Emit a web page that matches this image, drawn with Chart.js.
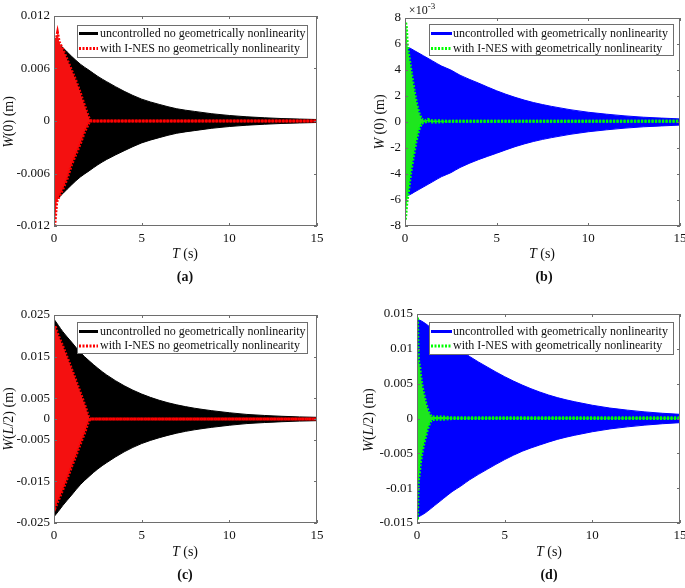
<!DOCTYPE html>
<html>
<head>
<meta charset="utf-8">
<script src="https://cdn.jsdelivr.net/npm/chart.js@4.4.1/dist/chart.umd.min.js"></script>
<style>
html, body { margin: 0; padding: 0; background: #fff; }
#wrap { position: relative; width: 685px; height: 588px; overflow: hidden; }
canvas { position: absolute; }
</style>
</head>
<body>
<div id="wrap">
  <canvas id="cA"></canvas>
  <canvas id="cB"></canvas>
  <canvas id="cC"></canvas>
  <canvas id="cD"></canvas>
</div>
<script>
// times (s) where the envelopes of the uncontrolled responses were read
const tEnv = [0, 0.25, 0.5, 1, 1.5, 2, 2.5, 3, 4, 5, 6, 7, 8, 9, 10, 11, 12, 13, 14, 15];
const xTicks = [0, 5, 10, 15];

// (a) W(0), no geometric nonlinearity
const upperA = [0.0096, 0.0089, 0.0084, 0.0074, 0.0065, 0.0058, 0.0051, 0.0045, 0.0034, 0.0025, 0.0019, 0.0014, 0.0011, 0.00083, 0.00063, 0.00048, 0.00037, 0.00028, 0.00022, 0.00017];
const lowerA = [-0.0093, -0.0088, -0.0083, -0.0073, -0.0064, -0.0057, -0.0050, -0.0044, -0.0034, -0.0025, -0.0019, -0.0014, -0.0011, -0.00083, -0.00063, -0.00048, -0.00037, -0.00028, -0.00022, -0.00017];
const tNesA = [0, 0.05, 0.15, 0.2, 0.3, 0.5, 0.75, 1, 1.25, 1.5, 1.75, 2, 2.1, 15];
const nesUpperA = [0.0093, 0.0095, 0.0096, 0.0101, 0.0090, 0.0082, 0.0070, 0.0058, 0.0046, 0.0032, 0.0017, 0.0003, 0, 0];
const nesLowerA = [-0.0120, -0.0118, -0.0093, -0.0090, -0.0086, -0.0078, -0.0066, -0.0050, -0.0038, -0.0026, -0.0012, -0.0002, 0, 0];
const yTicksA = [-0.012, -0.006, 0, 0.006, 0.012];
const yLabelsA = ['-0.012', '-0.006', '0', '0.006', '0.012'];

// (b) W(0), with geometric nonlinearity
const upperB = [0.0058, 0.0057, 0.0055, 0.0051, 0.0047, 0.0043, 0.0040, 0.0036, 0.0030, 0.0024, 0.0019, 0.0015, 0.0012, 0.00095, 0.00075, 0.0006, 0.00047, 0.00037, 0.0003, 0.00024];
const lowerB = [-0.0057, -0.0056, -0.0054, -0.0050, -0.0046, -0.0042, -0.0039, -0.0035, -0.0029, -0.0024, -0.0019, -0.0015, -0.0012, -0.00095, -0.00075, -0.0006, -0.00047, -0.00037, -0.0003, -0.00024];
const tNesB = [0, 0.03, 0.08, 0.12, 0.2, 0.3, 0.45, 0.6, 0.75, 0.9, 1.1, 1.25, 1.4, 1.7, 2.5, 15];
const nesUpperB = [0.0075, 0.0077, 0.0072, 0.0060, 0.0052, 0.0042, 0.0028, 0.0016, 0.0007, 0.0002, 0.0001, 0.0002, 0.0001, 0.0001, 0.00005, 0.00005];
const nesLowerB = [-0.0075, -0.0074, -0.0065, -0.0060, -0.0052, -0.0040, -0.0027, -0.0015, -0.0006, -0.0001, 0, 0.0001, 0, 0, 0.00005, 0.00005];
const yTicksB = [-0.008, -0.006, -0.004, -0.002, 0, 0.002, 0.004, 0.006, 0.008];
const yLabelsB = ['-8', '-6', '-4', '-2', '0', '2', '4', '6', '8'];

// (c) W(L/2), no geometric nonlinearity
const upperC = [0.0240, 0.0225, 0.0210, 0.0185, 0.0160, 0.0140, 0.0122, 0.0106, 0.0080, 0.0060, 0.0045, 0.0034, 0.0026, 0.0020, 0.0015, 0.0011, 0.00085, 0.00065, 0.0005, 0.0004];
const lowerC = [-0.0235, -0.0222, -0.0208, -0.0183, -0.0158, -0.0138, -0.0120, -0.0105, -0.0079, -0.0059, -0.0045, -0.0034, -0.0026, -0.0020, -0.0015, -0.0011, -0.00085, -0.00065, -0.0005, -0.0004];
const tNesC = [0, 0.05, 0.25, 0.5, 0.75, 1, 1.25, 1.5, 1.75, 1.95, 2.05, 15];
const nesUpperC = [0.0220, 0.0225, 0.0200, 0.0175, 0.0148, 0.0120, 0.0092, 0.0063, 0.0034, 0.0008, 0, 0];
const nesLowerC = [-0.0205, -0.0215, -0.0195, -0.0170, -0.0143, -0.0115, -0.0088, -0.0060, -0.0033, -0.0008, 0, 0];
const yTicksC = [-0.025, -0.015, -0.005, 0, 0.005, 0.015, 0.025];
const yLabelsC = ['-0.025', '-0.015', '-0.005', '0', '0.005', '0.015', '0.025'];

// (d) W(L/2), with geometric nonlinearity
const upperD = [0.0143, 0.0140, 0.0136, 0.0126, 0.0116, 0.0106, 0.0098, 0.0089, 0.0074, 0.0060, 0.0048, 0.0038, 0.0030, 0.0024, 0.0019, 0.0015, 0.0012, 0.00095, 0.00075, 0.0006];
const lowerD = [-0.0142, -0.0139, -0.0135, -0.0125, -0.0115, -0.0105, -0.0097, -0.0088, -0.0073, -0.0059, -0.0047, -0.0038, -0.0030, -0.0024, -0.0019, -0.0015, -0.0012, -0.00095, -0.00075, -0.0006];
const tNesD = [0, 0.03, 0.06, 0.1, 0.15, 0.2, 0.3, 0.4, 0.5, 0.6, 0.7, 0.8, 1.0, 1.5, 2.0, 15];
const nesUpperD = [0.0143, 0.0143, 0.0095, 0.0080, 0.0075, 0.0062, 0.0045, 0.0033, 0.0022, 0.0013, 0.0007, 0.0003, 0.0002, 0.0002, 0.0001, 0.0001];
const nesLowerD = [-0.0143, -0.0143, -0.0095, -0.0085, -0.0075, -0.0062, -0.0047, -0.0035, -0.0025, -0.0015, -0.0008, -0.0003, -0.0001, -0.0001, 0, 0];
const yTicksD = [-0.015, -0.01, -0.005, 0, 0.005, 0.01, 0.015];
const yLabelsD = ['-0.015', '-0.01', '-0.005', '0', '0.005', '0.01', '0.015'];

const legendNo = ['uncontrolled no geometrically nonlinearity', 'with I-NES no geometrically nonlinearity'];
const legendWith = ['uncontrolled with geometrically nonlinearity', 'with I-NES with geometrically nonlinearity'];

const SERIF = '"Liberation Serif", "Times New Roman", serif';
const FRAME = '#6e6e6e';

// draws a run of text pieces with different fonts, centred on (x, y)
function richText(ctx, parts, x, y, rot) {
    ctx.save();
    ctx.translate(x, y);
    if (rot) ctx.rotate(rot);
    let total = 0;
    parts.forEach(p => { ctx.font = p.f; total += ctx.measureText(p.t).width; });
    let cx = -total / 2;
    ctx.textBaseline = 'middle';
    ctx.textAlign = 'left';
    ctx.fillStyle = '#111';
    parts.forEach(p => {
        ctx.font = p.f;
        ctx.fillText(p.t, cx, p.dy || 0);
        cx += ctx.measureText(p.t).width;
    });
    ctx.restore();
}

function makePanel(id, p) {
    const canvas = document.getElementById(id);
    canvas.width = p.w;
    canvas.height = p.h;
    canvas.style.left = p.left + 'px';
    canvas.style.top = p.top + 'px';
    canvas.style.width = p.w + 'px';
    canvas.style.height = p.h + 'px';

    const pts = (xs, ys) => xs.map((x, i) => ({ x: x, y: ys[i] }));
    const c0 = p.colors[0], c1 = p.colors[1];

    // frame, inward ticks, legend and axis titles
    const deco = {
        id: 'deco' + id,
        afterDatasetsDraw(chart) {
            const ctx = chart.ctx, a = chart.chartArea;
            const xs = chart.scales.x, ys = chart.scales.y;
            ctx.save();
            ctx.strokeStyle = FRAME;
            ctx.lineWidth = 1;
            ctx.strokeRect(Math.round(a.left) + 0.5, Math.round(a.top) + 0.5,
                Math.round(a.right - a.left) - 1, Math.round(a.bottom - a.top) - 1);
            ctx.beginPath();
            xs.ticks.forEach(t => {
                const px = Math.round(xs.getPixelForValue(t.value)) + 0.5;
                ctx.moveTo(px, a.bottom); ctx.lineTo(px, a.bottom - 3);
                ctx.moveTo(px, a.top); ctx.lineTo(px, a.top + 3);
            });
            ys.ticks.forEach(t => {
                const py = Math.round(ys.getPixelForValue(t.value)) + 0.5;
                ctx.moveTo(a.left, py); ctx.lineTo(a.left + 3, py);
                ctx.moveTo(a.right, py); ctx.lineTo(a.right - 3, py);
            });
            ctx.stroke();

            // legend box
            const L = p.leg;
            ctx.fillStyle = '#fff';
            ctx.fillRect(L.x0, L.y0, L.x1 - L.x0, L.y1 - L.y0);
            ctx.strokeStyle = FRAME;
            ctx.strokeRect(L.x0 + 0.5, L.y0 + 0.5, L.x1 - L.x0, L.y1 - L.y0);
            ctx.lineWidth = 3;
            ctx.strokeStyle = c0;
            ctx.beginPath(); ctx.moveTo(L.s0, L.r0); ctx.lineTo(L.s1, L.r0); ctx.stroke();
            ctx.strokeStyle = c1;
            ctx.setLineDash([2, 1.5]);
            ctx.beginPath(); ctx.moveTo(L.s0, L.r1); ctx.lineTo(L.s1, L.r1); ctx.stroke();
            ctx.setLineDash([]);
            ctx.fillStyle = '#111';
            ctx.font = '12px ' + SERIF;
            ctx.textBaseline = 'middle';
            ctx.fillText(p.legend[0], L.tx, L.r0);
            ctx.fillText(p.legend[1], L.tx, L.r1);
            ctx.restore();
        },
        afterDraw(chart) {
            const ctx = chart.ctx;
            const f = '14px ' + SERIF, fi = 'italic 14px ' + SERIF;
            richText(ctx, p.yTitle.map(s => ({ t: s[0], f: s[1] ? fi : f })), p.yt[0], p.yt[1], -Math.PI / 2);
            richText(ctx, [{ t: 'T', f: fi }, { t: ' (s)', f: f }], p.xt[0], p.xt[1]);
            richText(ctx, [{ t: p.caption, f: 'bold 14px ' + SERIF }], p.cap[0], p.cap[1]);
            if (p.exp) {
                richText(ctx, [{ t: '\u00d710', f: '12px ' + SERIF }, { t: '-3', f: '9px ' + SERIF, dy: -4 }], p.exp[0], p.exp[1]);
            }
        }
    };

    const line = (data, color, extra) => Object.assign({
        data: data, borderColor: color, backgroundColor: color,
        pointRadius: 0, borderWidth: 1, tension: 0
    }, extra);

    return new Chart(canvas.getContext('2d'), {
        type: 'line',
        data: {
            datasets: [
                line(pts(tEnv, p.up), c0, { fill: false, order: 4, cubicInterpolationMode: 'monotone' }),
                line(pts(tEnv, p.low), c0, { fill: '-1', order: 3, cubicInterpolationMode: 'monotone' }),
                line(pts(p.tNes, p.nesUp), c1, { fill: false, order: 2, borderWidth: 3, borderDash: [2, 1.5] }),
                line(pts(p.tNes, p.nesLow), c1, { fill: '-1', order: 1, borderWidth: 3, borderDash: [2, 1.5], backgroundColor: p.nesFill })
            ]
        },
        options: {
            responsive: false,
            animation: false,
            devicePixelRatio: 1,
            layout: { padding: { left: 0, top: p.plotT, right: p.w - p.plotR, bottom: 0 } },
            plugins: { legend: { display: false }, tooltip: { enabled: false } },
            scales: {
                x: {
                    type: 'linear', min: 0, max: 15,
                    grid: { display: false, drawTicks: false },
                    border: { display: false },
                    afterBuildTicks: s => { s.ticks = xTicks.map(v => ({ value: v })); },
                    afterFit: s => { s.height = p.h - p.plotB; s.paddingLeft = 0; s.paddingRight = 0; },
                    ticks: { padding: 5, maxRotation: 0, color: '#111', font: { family: SERIF, size: 13 } }
                },
                y: {
                    type: 'linear', min: p.yTicks[0], max: p.yTicks[p.yTicks.length - 1],
                    grid: { display: false, drawTicks: false },
                    border: { display: false },
                    afterBuildTicks: s => { s.ticks = p.yTicks.map(v => ({ value: v })); },
                    afterFit: s => { s.width = p.plotL; s.paddingTop = 0; s.paddingBottom = 0; },
                    ticks: {
                        padding: 4, color: '#111', font: { family: SERIF, size: 13 },
                        callback: (v, i) => p.yLabels[i]
                    }
                }
            }
        },
        plugins: [deco]
    });
}

makePanel('cA', {
    left: 0, top: 0, w: 340, h: 290, plotL: 54, plotT: 16, plotR: 317, plotB: 226,
    up: upperA, low: lowerA, tNes: tNesA, nesUp: nesUpperA, nesLow: nesLowerA,
    yTicks: yTicksA, yLabels: yLabelsA, colors: ['#000000', '#ff0000'], nesFill: '#f41010',
    legend: legendNo,
    leg: { x0: 77, y0: 25, x1: 307, y1: 57, r0: 33.5, r1: 48.5, s0: 79, s1: 98, tx: 100 },
    yTitle: [['W', 1], ['(0) (m)', 0]], yt: [9, 122], xt: [185, 254], cap: [185, 277], caption: '(a)'
});

makePanel('cB', {
    left: 340, top: 0, w: 345, h: 290, plotL: 65, plotT: 18, plotR: 340, plotB: 226,
    up: upperB, low: lowerB, tNes: tNesB, nesUp: nesUpperB, nesLow: nesLowerB,
    yTicks: yTicksB, yLabels: yLabelsB, colors: ['#0000ff', '#00ff00'], nesFill: '#1ee61e',
    legend: legendWith,
    leg: { x0: 89, y0: 24, x1: 333, y1: 55, r0: 33.5, r1: 48.5, s0: 91, s1: 112, tx: 113 },
    yTitle: [['W', 1], [' (0) (m)', 0]], yt: [40, 122], xt: [202, 254], cap: [204, 277], caption: '(b)',
    exp: [82, 11]
});

makePanel('cC', {
    left: 0, top: 290, w: 340, h: 298, plotL: 54, plotT: 25, plotR: 317, plotB: 233,
    up: upperC, low: lowerC, tNes: tNesC, nesUp: nesUpperC, nesLow: nesLowerC,
    yTicks: yTicksC, yLabels: yLabelsC, colors: ['#000000', '#ff0000'], nesFill: '#f41010',
    legend: legendNo,
    leg: { x0: 77, y0: 32, x1: 307, y1: 63, r0: 41.5, r1: 56, s0: 79, s1: 98, tx: 100 },
    yTitle: [['W', 1], ['(', 0], ['L', 1], ['/2) (m)', 0]], yt: [9, 129], xt: [185, 262], cap: [185, 285], caption: '(c)'
});

makePanel('cD', {
    left: 340, top: 290, w: 345, h: 298, plotL: 77, plotT: 24, plotR: 340, plotB: 233,
    up: upperD, low: lowerD, tNes: tNesD, nesUp: nesUpperD, nesLow: nesLowerD,
    yTicks: yTicksD, yLabels: yLabelsD, colors: ['#0000ff', '#00ff00'], nesFill: '#1ee61e',
    legend: legendWith,
    leg: { x0: 89, y0: 32, x1: 333, y1: 64, r0: 41.5, r1: 56, s0: 91, s1: 112, tx: 113 },
    yTitle: [['W', 1], ['(', 0], ['L', 1], ['/2) (m)', 0]], yt: [29, 130], xt: [209, 262], cap: [209, 285], caption: '(d)'
});
</script>
</body>
</html>
